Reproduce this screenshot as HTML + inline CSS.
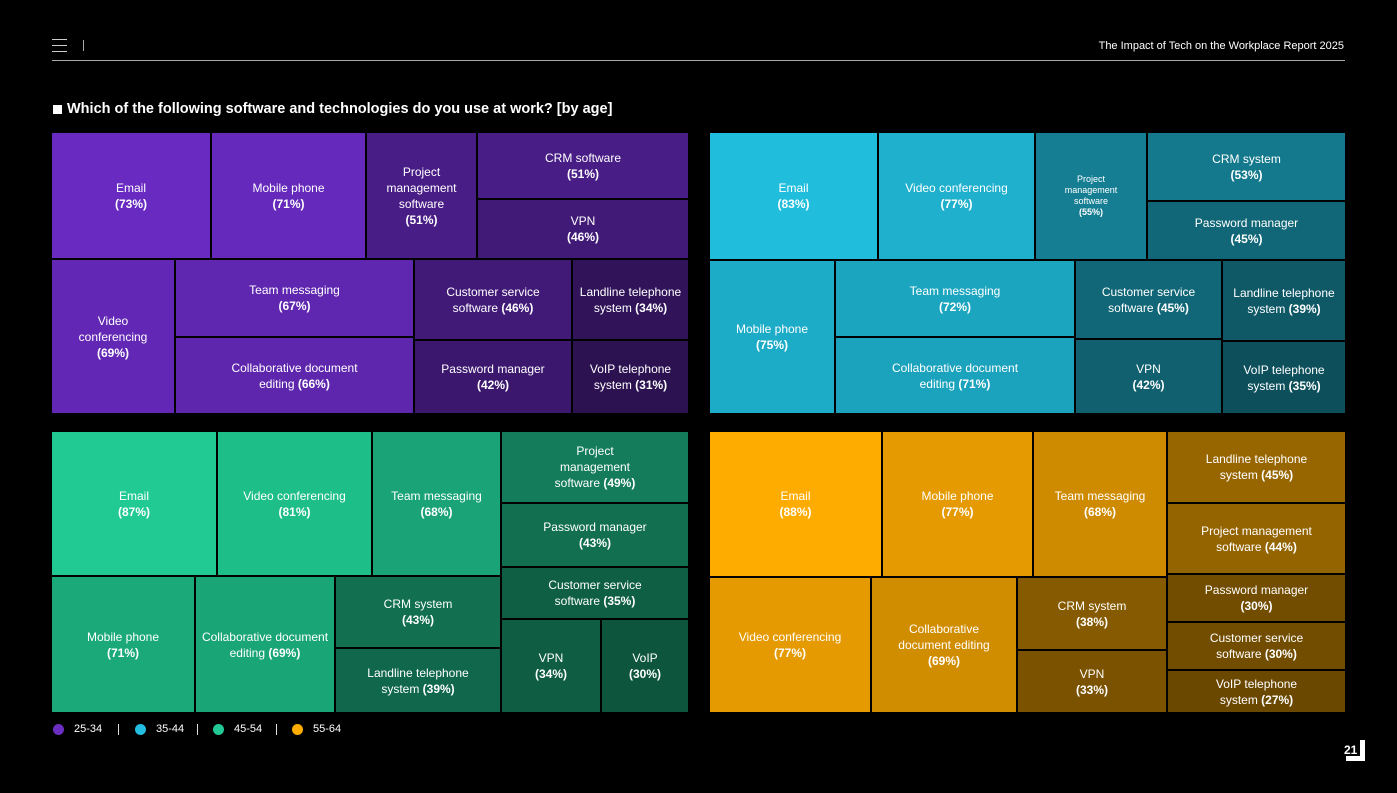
<!DOCTYPE html>
<html><head><meta charset="utf-8">
<style>
body{margin:0;background:#000;width:1397px;height:793px;overflow:hidden;position:relative;font-family:"Liberation Sans",sans-serif;color:#fff}
.abs{position:absolute}
.tile{position:absolute;display:flex;align-items:center;justify-content:center;text-align:center;font-size:12px;line-height:16px;box-sizing:border-box;padding:0 4px}
.tile b{font-weight:bold}
.leg{position:absolute;top:723px;font-size:11px;display:flex;align-items:center}
.dot{width:11px;height:11px;border-radius:50%;display:inline-block;margin-right:10px}
.sep{position:absolute;top:724px;width:1px;height:11px;background:#ddd}
</style></head><body>
<div class="abs" style="left:52px;top:39px;width:15px;height:13px">
 <div class="abs" style="top:0;width:15px;height:1px;background:#ccc"></div>
 <div class="abs" style="top:6px;width:15px;height:1px;background:#ccc"></div>
 <div class="abs" style="top:12px;width:15px;height:1px;background:#ccc"></div>
</div>
<div class="abs" style="left:83px;top:40px;width:1px;height:11px;background:#aaa"></div>
<div class="abs" style="right:53px;top:40px;font-size:11px">The Impact of Tech on the Workplace Report 2025</div>
<div class="abs" style="left:52px;top:60px;width:1293px;height:1px;background:#aaa"></div>
<div class="abs" style="left:53px;top:105px;width:9px;height:9px;background:#fff"></div>
<div class="abs" style="left:67px;top:101px;font-size:14.5px;font-weight:bold">Which of the following software and technologies do you use at work? [by age]</div>
<div id="charts"></div>

<div class="leg" style="left:53px"><span class="dot" style="background:#6a2fc0"></span>25-34</div>
<div class="sep" style="left:118px"></div>
<div class="leg" style="left:135px"><span class="dot" style="background:#22bde0"></span>35-44</div>
<div class="sep" style="left:197px"></div>
<div class="leg" style="left:213px"><span class="dot" style="background:#22c994"></span>45-54</div>
<div class="sep" style="left:276px"></div>
<div class="leg" style="left:292px"><span class="dot" style="background:#ffab00"></span>55-64</div>

<div class="abs" style="left:1344px;top:743px;font-size:12px;font-weight:bold">21</div>
<div class="abs" style="left:1346px;top:740px;width:19px;height:21px;border-right:5px solid #fff;border-bottom:5px solid #fff;box-sizing:border-box"></div>

<script>
// ---- data ----
const names1 = ["Email|","Mobile phone|","Project|management|software|","CRM software|","VPN|","Video|conferencing|","Team messaging|","Collaborative document|editing","Customer service|software","Password manager|","Landline telephone|system","VoIP telephone|system"];
const values1 = [73,71,51,51,46,69,67,66,46,42,34,31];
const names2 = ["Email|","Video conferencing|","Project|management|software|","CRM system|","Password manager|","Mobile phone|","Team messaging|","Collaborative document|editing","Customer service|software","VPN|","Landline telephone|system","VoIP telephone|system"];
const values2 = [83,77,55,53,45,75,72,71,45,42,39,35];
const names3 = ["Email|","Video conferencing|","Team messaging|","Mobile phone|","Collaborative document|editing","CRM system|","Landline telephone|system","Project|management|software","Password manager|","Customer service|software","VPN|","VoIP|"];
const values3 = [87,81,68,71,69,43,39,49,43,35,34,30];
const names4 = ["Email|","Mobile phone|","Team messaging|","Video conferencing|","Collaborative|document editing|","CRM system|","VPN|","Landline telephone|system","Project management|software","Password manager|","Customer service|software","VoIP telephone|system"];
const values4 = [88,77,68,77,69,38,33,45,44,30,30,27];
const groups = ["25-34","35-44","45-54","55-64"];
const baseColors = [[104,42,192],[32,190,220],[32,202,146],[255,172,0]];

// layout structure (indices only)
const struct1 = {d:"v",c:[{d:"h",c:[0,1,2,{d:"v",c:[3,4]}]},{d:"h",c:[5,{d:"v",c:[6,7]},{d:"v",c:[8,9]},{d:"v",c:[10,11]}]}]};
const struct2 = {d:"v",c:[{d:"h",c:[0,1,2,{d:"v",c:[3,4]}]},{d:"h",c:[5,{d:"v",c:[6,7]},{d:"v",c:[8,9]},{d:"v",c:[10,11]}]}]};
const struct3 = {d:"h",c:[{d:"v",c:[{d:"h",c:[0,1,2]},{d:"h",c:[3,4,{d:"v",c:[5,6]}]}]},{d:"v",c:[7,8,9,{d:"h",c:[10,11]}]}]};
const struct4 = {d:"h",c:[{d:"v",c:[{d:"h",c:[0,1,2]},{d:"h",c:[3,4,{d:"v",c:[5,6]}]}]},{d:"v",c:[7,8,9,10,11]}]};

const panels=[
 {names:names1,values:values1,s:struct1,x:52,y:133,w:636,h:280},
 {names:names2,values:values2,s:struct2,x:710,y:133,w:635,h:280},
 {names:names3,values:values3,s:struct3,x:52,y:432,w:636,h:280},
 {names:names4,values:values4,s:struct4,x:710,y:432,w:635,h:280}];

const root=document.getElementById('charts');
function weight(n,vals){return typeof n==="number"?vals[n]:n.c.reduce((a,c)=>a+weight(c,vals),0);}
function layout(n,vals,x,y,w,h,out){
 if(typeof n==="number"){out.push({i:n,x,y,w,h});return;}
 const tot=weight(n,vals);let off=0;
 n.c.forEach(c=>{const f=weight(c,vals)/tot;
  if(n.d==="h"){layout(c,vals,x+off,y,w*f,h,out);off+=w*f;}
  else{layout(c,vals,x,y+off,w,h*f,out);off+=h*f;}});
}
panels.forEach((p,pi)=>{
 const out=[];layout(p.s,p.values,p.x-1,p.y-1,p.w+2,p.h+2,out);
 const mx=Math.max(...p.values),mn=Math.min(...p.values);
 out.forEach(t=>{
  const v=p.values[t.i];
  const f=0.42+0.58*(v-mn)/(mx-mn);
  const b=baseColors[pi];
  const col=`rgb(${Math.round(b[0]*f)},${Math.round(b[1]*f)},${Math.round(b[2]*f)})`;
  const el=document.createElement('div');
  el.className='tile';
  
  
  const l=Math.round(t.x)+1,tp=Math.round(t.y)+1;
  const r=Math.round(t.x+t.w)-1,bt=Math.round(t.y+t.h)-1;
  el.style.left=l+'px';el.style.top=tp+'px';el.style.width=(r-l)+'px';el.style.height=(bt-tp)+'px';
  el.style.background=col;
  const parts=p.names[t.i].split('|');
  const last=parts.pop();
  let html=parts.join('<br>');
  if(last===''){html+='<br><b>('+v+'%)</b>';}
  else{html+=(parts.length?'<br>':'')+last+' <b>('+v+'%)</b>';}
  if(pi===1&&t.i===2){el.style.fontSize='9px';el.style.lineHeight='11px';}
  el.innerHTML='<div>'+html+'</div>';
  root.appendChild(el);
 });
});
</script>
</body></html>
